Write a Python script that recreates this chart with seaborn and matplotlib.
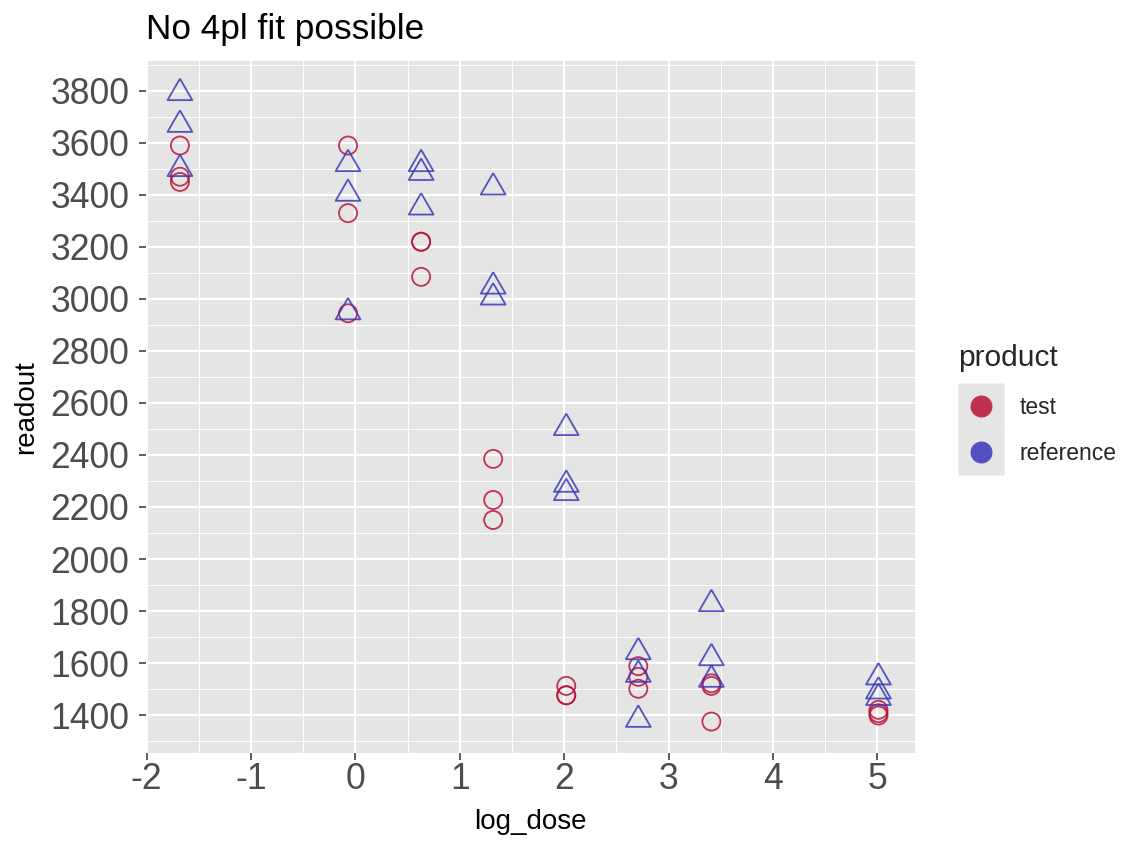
import numpy as np
import pandas as pd
import matplotlib
matplotlib.use("Agg")
import matplotlib.pyplot as plt
from matplotlib.lines import Line2D
from matplotlib.legend_handler import HandlerTuple
from matplotlib.ticker import MultipleLocator
import seaborn as sns

# ---------------- data ----------------
dose_levels = [-1.68, -0.07, 0.63, 1.32, 2.02, 2.71, 3.41, 5.01]
test_readout = [3590, 3470, 3450,
                3590, 3330, 2945,
                3220, 3220, 3085,
                2385, 2227, 2150,
                1512, 1476, 1476,
                1588, 1547, 1501,
                1522, 1512, 1375,
                1420, 1407, 1398]
reference_readout = [3792, 3670, 3500,
                     3519, 3405, 2949,
                     3519, 3485, 3352,
                     3429, 3048, 3006,
                     2504, 2286, 2254,
                     1642, 1555, 1382,
                     1827, 1619, 1536,
                     1545, 1491, 1466]
products = ["test", "reference"]
x_ticks = [-2, -1, 0, 1, 2, 3, 4, 5]
y_ticks = [1400, 1600, 1800, 2000, 2200, 2400, 2600, 2800, 3000, 3200, 3400, 3600, 3800]
title_text = "No 4pl fit possible"

log_dose = np.repeat(dose_levels, 3)
df = pd.DataFrame({
    "log_dose": np.concatenate([log_dose, log_dose]),
    "readout": test_readout + reference_readout,
    "product": ["test"] * len(test_readout) + ["reference"] * len(reference_readout),
})

# ---------------- style ----------------
sns.set_theme(style="darkgrid")
plt.rcParams["font.family"] = ["Liberation Sans", "DejaVu Sans"]

panel_bg = "#E5E5E5"
colors = {"test": "#BA1238", "reference": "#3A3AB8"}
legend_colors = {"test": "#C0304F", "reference": "#5050C0"}
tri = [(0.0, 1.0), (-0.8660, -0.5), (0.8660, -0.5), (0.0, 1.0)]
markers = {"test": "o", "reference": tri}
sizes = {"test": 13.0 ** 2, "reference": 20.6 ** 2}

W, H = 1148, 850
fig = plt.figure(figsize=(W / 100, H / 100), dpi=100)
fig.patch.set_facecolor("white")
ax = fig.add_axes([146 / W, 1 - 753 / H, 769 / W, 692 / H])
ax.set_facecolor(panel_bg)

for p in products:
    sub = df[df["product"] == p]
    sns.scatterplot(data=sub, x="log_dose", y="readout", ax=ax,
                    marker=markers[p], s=sizes[p], facecolors="none",
                    edgecolor=colors[p], linewidth=1.3, alpha=0.85,
                    legend=False, zorder=3)

ax.set_xlim(-2.005, 5.36)
ax.set_ylim(1254, 3915)
ax.xaxis.set_major_locator(MultipleLocator(1))
ax.xaxis.set_minor_locator(MultipleLocator(0.5))
ax.yaxis.set_major_locator(MultipleLocator(200))
ax.yaxis.set_minor_locator(MultipleLocator(100))
ax.set_xticks(x_ticks)
ax.set_yticks(y_ticks)
ax.set_xticklabels([str(v) for v in x_ticks])
ax.set_yticklabels([str(v) for v in y_ticks])

ax.grid(which="major", color="white", linewidth=1.5)
ax.grid(which="minor", color="white", linewidth=0.75)
ax.set_axisbelow(True)
for s in ax.spines.values():
    s.set_visible(False)

ax.tick_params(axis="both", which="major", length=5, width=1.1, color="#333333",
               labelsize=25.6, labelcolor="#4D4D4D", bottom=True, left=True, direction="out")
ax.tick_params(axis="x", which="major", pad=1.5)
ax.tick_params(axis="y", which="major", pad=7)
ax.tick_params(axis="both", which="minor", length=0, bottom=False, left=False)

ax.set_xlabel("log_dose", fontsize=20, color="black")
ax.set_ylabel("readout", fontsize=20, color="black")
ax.xaxis.set_label_coords(0.5, (753 - 829) / 692)
ax.xaxis.label.set_va("baseline")
ax.yaxis.set_label_coords((33 - 146) / 769, 0.5)
ax.yaxis.label.set_rotation_mode("anchor")
ax.yaxis.label.set_va("baseline")
ax.yaxis.label.set_ha("center")

ax.set_title(title_text, loc="left", pad=15.8, fontsize=25.3, color="black")


# ---------------- legend ----------------
class ShiftedTuple(HandlerTuple):
    """Tuple handler that nudges the key glyphs down inside the row."""
    def __init__(self, shift=0.0, **kw):
        super().__init__(**kw)
        self._shift = shift

    def create_artists(self, legend, orig_handle, xdescent, ydescent,
                       width, height, fontsize, trans):
        return super().create_artists(legend, orig_handle, xdescent,
                                      ydescent + self._shift, width, height,
                                      fontsize, trans)


handles = []
for p in products:
    bg = Line2D([], [], marker="s", markersize=33.2, markerfacecolor=panel_bg,
                markeredgecolor="none", linestyle="")
    dot = Line2D([], [], marker="o", markersize=15, markerfacecolor=legend_colors[p],
                 markeredgecolor=legend_colors[p], markeredgewidth=0.8, linestyle="")
    handles.append((bg, dot))
leg = fig.legend(handles, products,
                 handler_map={tuple: ShiftedTuple(shift=10.0, ndivide=1, pad=0)},
                 loc="upper left", bbox_to_anchor=(958 / W, 1 - 344 / H),
                 frameon=False, title="product", title_fontsize=21.5, fontsize=16.5,
                 handlelength=2.04, handleheight=2.71, handletextpad=0.65,
                 labelspacing=0, borderpad=0, borderaxespad=0, alignment="left")
leg._legend_box.sep = 8.5

fig.savefig("out.png", dpi=100)
